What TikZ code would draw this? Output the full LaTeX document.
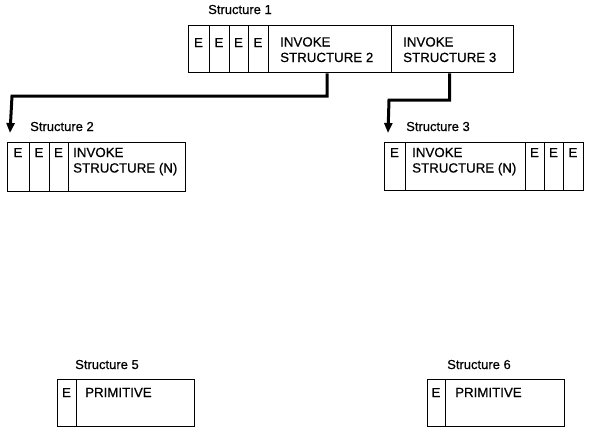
\documentclass[tikz,border=0pt]{standalone}
\usepackage{fontspec}
\setmainfont{Liberation Sans}
\newfontfamily\medfont{Liberation Sans}[FakeBold=0.6, BoldFont=Liberation Sans, BoldFeatures={FakeBold=0.6}]
\usetikzlibrary{arrows.meta}
\begin{document}
\begin{tikzpicture}[x=1pt,y=-1pt,
  cellbox/.style={draw, line width=1.3pt, inner sep=0pt, anchor=north west},
  celltxt/.style={anchor=base west, inner sep=0pt, align=left, font=\medfont\bfseries\fontsize{13.3}{15.5}\selectfont},
  etxt/.style={anchor=base, inner sep=0pt, font=\medfont\bfseries\fontsize{13}{15}\selectfont},
  title/.style={anchor=base west, inner sep=0pt, font=\medfont\bfseries\fontsize{13}{14}\selectfont},
  conn/.style={line width=3pt, -{Triangle[width=8pt,length=10pt]}}]
\useasboundingbox (0,0) rectangle (591,431);
% Structure 1
\node[title] (t1) at (208,14) {Structure 1};
\node[cellbox, minimum width=21pt, minimum height=47pt] (a1) at (188,25) {};
\node[cellbox, minimum width=20pt, minimum height=47pt] (a2) at (209,25) {};
\node[cellbox, minimum width=19pt, minimum height=47pt] (a3) at (229,25) {};
\node[cellbox, minimum width=20pt, minimum height=47pt] (a4) at (248,25) {};
\node[cellbox, minimum width=123pt, minimum height=47pt] (a5) at (268,25) {};
\node[cellbox, minimum width=122pt, minimum height=47pt] (a6) at (391,25) {};
\node[etxt] (ae1) at (198.5,47) {E};
\node[etxt] (ae2) at (219,47) {E};
\node[etxt] (ae3) at (238.5,47) {E};
\node[etxt] (ae4) at (258,47) {E};
\node[celltxt] (at5) at (280,62) {INVOKE\\STRUCTURE 2};
\node[celltxt] (at6) at (403,62) {INVOKE\\STRUCTURE 3};
% Structure 2
\node[title] (t2) at (30,131) {Structure 2};
\node[cellbox, minimum width=22pt, minimum height=49pt] (b1) at (7,142) {};
\node[cellbox, minimum width=20pt, minimum height=49pt] (b2) at (29,142) {};
\node[cellbox, minimum width=19pt, minimum height=49pt] (b3) at (49,142) {};
\node[cellbox, minimum width=117pt, minimum height=49pt] (b4) at (68,142) {};
\node[etxt] (be1) at (18,157) {E};
\node[etxt] (be2) at (39,157) {E};
\node[etxt] (be3) at (58.5,157) {E};
\node[celltxt] (bt4) at (73,172.5) {INVOKE\\STRUCTURE (N)};
% Structure 3
\node[title] (t3) at (406,131) {Structure 3};
\node[cellbox, minimum width=21pt, minimum height=48pt] (c1) at (384,142) {};
\node[cellbox, minimum width=120pt, minimum height=48pt] (c2) at (405,142) {};
\node[cellbox, minimum width=19pt, minimum height=48pt] (c3) at (525,142) {};
\node[cellbox, minimum width=19pt, minimum height=48pt] (c4) at (544,142) {};
\node[cellbox, minimum width=20pt, minimum height=48pt] (c5) at (563,142) {};
\node[etxt] (ce1) at (394.5,157) {E};
\node[celltxt] (ct2) at (412,172.5) {INVOKE\\STRUCTURE (N)};
\node[etxt] (ce3) at (534.5,157) {E};
\node[etxt] (ce4) at (553.5,157) {E};
\node[etxt] (ce5) at (573,157) {E};
% Structure 5
\node[title] (t5) at (75,369) {Structure 5};
\node[cellbox, minimum width=19pt, minimum height=47pt] (d1) at (57,379) {};
\node[cellbox, minimum width=118pt, minimum height=47pt] (d2) at (76,379) {};
\node[etxt] (de1) at (66.5,397) {E};
\node[celltxt] (dt2) at (85,397) {PRIMITIVE};
% Structure 6
\node[title] (t6) at (447,369) {Structure 6};
\node[cellbox, minimum width=18pt, minimum height=47pt] (e1) at (427,379) {};
\node[cellbox, minimum width=119pt, minimum height=47pt] (e2) at (445,379) {};
\node[etxt] (ee1) at (436,397) {E};
\node[celltxt] (et2) at (455,397) {PRIMITIVE};
% connectors
\coordinate (p2) at (10,133);
\coordinate (p3) at (388,133);
\draw[conn] ([xshift=-3pt]a5.south) |- (12,96) -- (p2);
\draw[conn] ([xshift=-3pt]a6.south) |- (389,100) -- (p3);
\end{tikzpicture}
\end{document}
